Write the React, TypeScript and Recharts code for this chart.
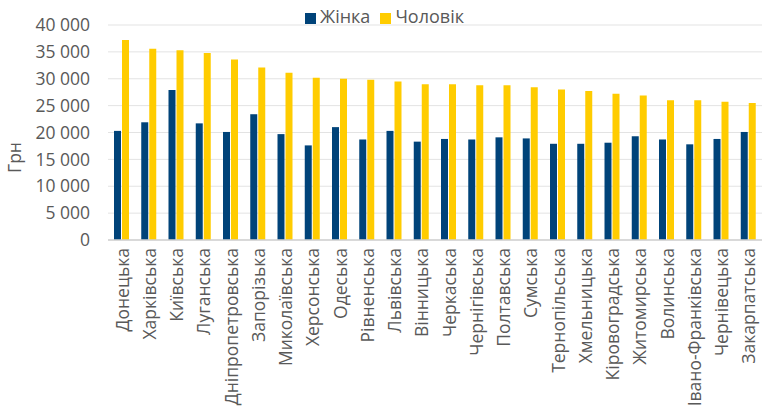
import { Bar, BarChart, CartesianGrid, Legend, XAxis, YAxis } from "recharts"

const regions = [
  "Донецька", "Харківська", "Київська", "Луганська", "Дніпропетровська", "Запорізька",
  "Миколаївська", "Херсонська", "Одеська", "Рівненська", "Львівська", "Вінницька",
  "Черкаська", "Чернігівська", "Полтавська", "Сумська", "Тернопільська", "Хмельницька",
  "Кіровоградська", "Житомирська", "Волинська", "Івано-Франківська", "Чернівецька", "Закарпатська",
]

const women = [
  20300, 21900, 27900, 21700, 20100, 23400, 19700, 17600, 21000, 18700, 20300, 18300,
  18800, 18700, 19100, 18900, 17900, 17900, 18100, 19300, 18700, 17800, 18800, 20100,
]

const men = [
  37200, 35600, 35300, 34800, 33600, 32100, 31100, 30200, 30000, 29800, 29500, 29000,
  29000, 28800, 28800, 28400, 28000, 27700, 27200, 26900, 26000, 26000, 25700, 25500,
]

const yTicks = [0, 5000, 10000, 15000, 20000, 25000, 30000, 35000, 40000]

const data = regions.map((name, i) => ({ name, women: women[i], men: men[i] }))

const fmt = (v: number) => String(v).replace(/\B(?=(\d{3})+(?!\d))/g, " ")

const FONT = "'Open Sans', sans-serif"
const TEXT = "#595959"

function RegionTick({ x, y, payload }: any) {
  return (
    <text
      x={x}
      y={y}
      transform={`rotate(-90 ${x} ${y})`}
      textAnchor="end"
      dominantBaseline="central"
      fill={TEXT}
      fontSize={17.5}
      fontFamily={FONT}
    >
      {payload.value}
    </text>
  )
}

export default function App() {
  return (
    <div style={{ position: "absolute", left: 0, top: 0, width: 763, height: 406, background: "#fff" }}>
      <BarChart
        width={763}
        height={406}
        data={data}
        margin={{ top: 25, right: 1, left: 0, bottom: 0 }}
        barSize={7}
        barGap={1}
      >
        <CartesianGrid vertical={false} stroke="#E3E3E3" />
        <XAxis
          dataKey="name"
          interval={0}
          height={166}
          tick={<RegionTick />}
          tickLine={false}
          tickSize={0}
          tickMargin={8}
          axisLine={{ stroke: "#D0D0D0", strokeWidth: 1.5 }}
        />
        <YAxis
          width={108}
          domain={[0, 40000]}
          ticks={yTicks}
          tickFormatter={fmt}
          axisLine={false}
          tickLine={false}
          tickSize={0}
          tickMargin={18}
          tick={{ fill: TEXT, fontSize: 17.5, fontFamily: FONT }}
          label={{ value: "Грн", angle: -90, position: "center", dx: -39, dy: 25, fill: TEXT, fontSize: 17.5, fontFamily: FONT }}
        />
        <Legend
          verticalAlign="middle"
          iconType="square"
          iconSize={11}
          wrapperStyle={{ top: 4, left: 8, width: 763, fontFamily: FONT, fontSize: 18 }}
          formatter={(value) => <span style={{ color: TEXT }}>{value}</span>}
        />
        <Bar dataKey="women" name="Жінка" fill="#004379" isAnimationActive={false} />
        <Bar dataKey="men" name="Чоловік" fill="#FFCC00" isAnimationActive={false} />
      </BarChart>
    </div>
  )
}
